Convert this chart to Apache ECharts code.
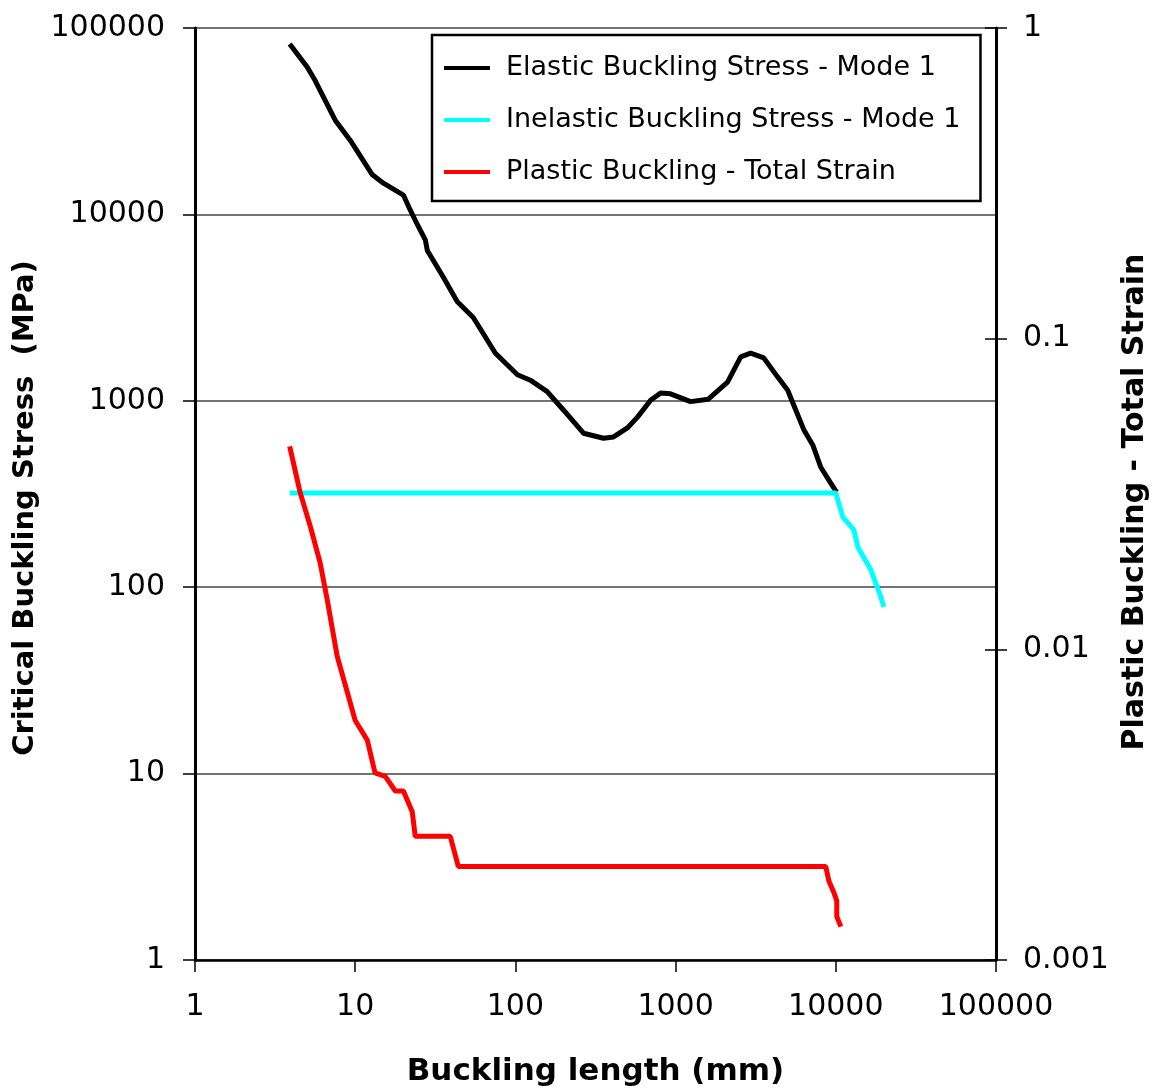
<!DOCTYPE html>
<html>
<head>
<meta charset="utf-8">
<script src="https://cdn.jsdelivr.net/npm/echarts@6/dist/echarts.min.js"></script>
<style>
  html, body { margin: 0; padding: 0; background: #fff; }
  #chart { width: 1153px; height: 1088px; }
</style>
</head>
<body>
<div id="chart"></div>
<script>
// ---- Data ----
const seriesNames = [
  'Elastic Buckling Stress - Mode 1',
  'Inelastic Buckling Stress - Mode 1',
  'Plastic Buckling - Total Strain'
];

// Elastic buckling stress (MPa) vs buckling length (mm)
const elasticLength = [3.9, 5.0, 5.6, 7.5, 9.3, 12.8, 15, 20, 22, 23.7, 27.4, 28.2, 35.5, 43.4, 54.6, 75, 103, 124, 158, 200, 266, 355, 410, 500, 580, 700, 806, 930, 1240, 1600, 2110, 2550, 2940, 3550, 4340, 5010, 5460, 6310, 7180, 8060, 9300, 10100];
const elasticStress = [82000, 62000, 52600, 32000, 25000, 16300, 14700, 12700, 10600, 9300, 7300, 6400, 4600, 3400, 2800, 1800, 1380, 1290, 1120, 890, 670, 630, 640, 715, 820, 1010, 1100, 1090, 990, 1020, 1260, 1720, 1800, 1700, 1340, 1140, 950, 700, 580, 440, 362, 324];

// Inelastic buckling stress (MPa)
const inelasticLength = [3.9, 10000, 11060, 12960, 13730, 16550, 19100, 19950];
const inelasticStress = [320, 320, 238, 203, 164, 124, 88.6, 78.3];

// Plastic buckling total strain (right axis)
const plasticLength = [3.9, 4.53, 5.23, 6.04, 6.68, 7.72, 8.91, 10, 11.9, 13.3, 15.4, 17.8, 20, 22.7, 23.7, 39.2, 44, 8660, 9040, 9720, 10140, 10140, 10750];
const plasticStrain = [0.045, 0.032, 0.025, 0.019, 0.0145, 0.0095, 0.0073, 0.0059, 0.0051, 0.0040, 0.0039, 0.0035, 0.0035, 0.0030, 0.0025, 0.0025, 0.0020, 0.0020, 0.0018, 0.00165, 0.00155, 0.00138, 0.00128];

// Axis ranges / tick labels
const xRange = [1, 100000];
const yLeftRange = [1, 100000];
const yRightRange = [0.001, 1];

// ---- Chart ----
const FONT = 'DejaVu Sans';
function pair(xs, ys) { return xs.map((x, i) => [x, ys[i]]); }
function logLabel(v) {
  const e = Math.round(Math.log10(v));
  return String(Number(Math.pow(10, e).toPrecision(1)));
}

const chart = echarts.init(document.getElementById('chart'), null, { renderer: 'canvas' });
chart.setOption({
  backgroundColor: '#ffffff',
  animation: false,
  textStyle: { fontFamily: FONT },
  grid: { left: 195, right: 157, top: 28, bottom: 128, containLabel: false, outerBoundsMode: 'none' },
  legend: {
    data: seriesNames,
    orient: 'vertical',
    left: 432,
    top: 35,
    padding: [18, 20, 14, 12],
    itemGap: 22,
    itemWidth: 46,
    itemHeight: 4,
    icon: 'rect',
    backgroundColor: '#ffffff',
    borderColor: '#000000',
    borderWidth: 2.5,
    borderRadius: 0,
    textStyle: { fontFamily: FONT, fontSize: 27, color: '#000', lineHeight: 30, padding: [0, 0, 0, 11] }
  },
  xAxis: {
    type: 'log',
    logBase: 10,
    min: xRange[0],
    max: xRange[1],
    name: 'Buckling length (mm)',
    nameLocation: 'middle',
    nameGap: 96,
    nameTextStyle: { fontFamily: FONT, fontSize: 31, fontWeight: 'bold', color: '#000' },
    axisLine: { show: true, lineStyle: { color: '#000', width: 2.5 } },
    axisTick: { show: true, inside: false, length: 12, lineStyle: { color: '#000', width: 1.5 } },
    axisLabel: { fontFamily: FONT, fontSize: 30, color: '#000', margin: 32, formatter: logLabel },
    splitLine: { show: false },
    minorTick: { show: false }
  },
  yAxis: [
    {
      type: 'log',
      logBase: 10,
      min: yLeftRange[0],
      max: yLeftRange[1],
      position: 'left',
      name: 'Critical Buckling Stress  (MPa)',
      nameLocation: 'middle',
      nameRotate: 90,
      nameGap: 153,
      nameTextStyle: { fontFamily: FONT, fontSize: 29, fontWeight: 'bold', color: '#000', padding: [0, 28, 0, 0] },
      axisLine: { show: true, lineStyle: { color: '#000', width: 3 } },
      axisTick: { show: true, inside: false, length: 12, lineStyle: { color: '#000', width: 1.5 } },
      axisLabel: { fontFamily: FONT, fontSize: 30, color: '#000', margin: 30, formatter: logLabel },
      splitLine: { show: true, lineStyle: { color: '#444', width: 1.5 } }
    },
    {
      type: 'log',
      logBase: 10,
      min: yRightRange[0],
      max: yRightRange[1],
      position: 'right',
      name: 'Plastic Buckling - Total Strain',
      nameLocation: 'middle',
      nameRotate: 90,
      nameGap: 122,
      nameTextStyle: { fontFamily: FONT, fontSize: 30, fontWeight: 'bold', color: '#000', padding: [0, 16, 0, 0] },
      axisLine: { show: true, lineStyle: { color: '#000', width: 3 } },
      axisTick: { show: true, inside: false, length: 11, lineStyle: { color: '#000', width: 1.5 } },
      axisLabel: { fontFamily: FONT, fontSize: 30, color: '#000', margin: 27, formatter: logLabel },
      splitLine: { show: false }
    },
    {
      type: 'log',
      logBase: 10,
      min: yRightRange[0],
      max: yRightRange[1],
      position: 'right',
      axisLine: { show: false },
      axisTick: { show: true, inside: true, length: 11, lineStyle: { color: '#000', width: 1.5 } },
      axisLabel: { show: false },
      splitLine: { show: false }
    }
  ],
  series: [
    {
      name: seriesNames[0],
      type: 'line',
      yAxisIndex: 0,
      data: pair(elasticLength, elasticStress),
      showSymbol: false,
      symbol: 'none',
      smooth: false,
      lineStyle: { color: '#000000', width: 5 },
      itemStyle: { color: '#000000' },
      z: 3
    },
    {
      name: seriesNames[1],
      type: 'line',
      yAxisIndex: 0,
      data: pair(inelasticLength, inelasticStress),
      showSymbol: false,
      symbol: 'none',
      lineStyle: { color: '#00FFFF', width: 5 },
      itemStyle: { color: '#00FFFF' },
      z: 4
    },
    {
      name: seriesNames[2],
      type: 'line',
      yAxisIndex: 1,
      data: pair(plasticLength, plasticStrain),
      showSymbol: false,
      symbol: 'none',
      lineStyle: { color: '#FF0000', width: 5 },
      itemStyle: { color: '#FF0000' },
      z: 5
    }
  ]
});
</script>
</body>
</html>
